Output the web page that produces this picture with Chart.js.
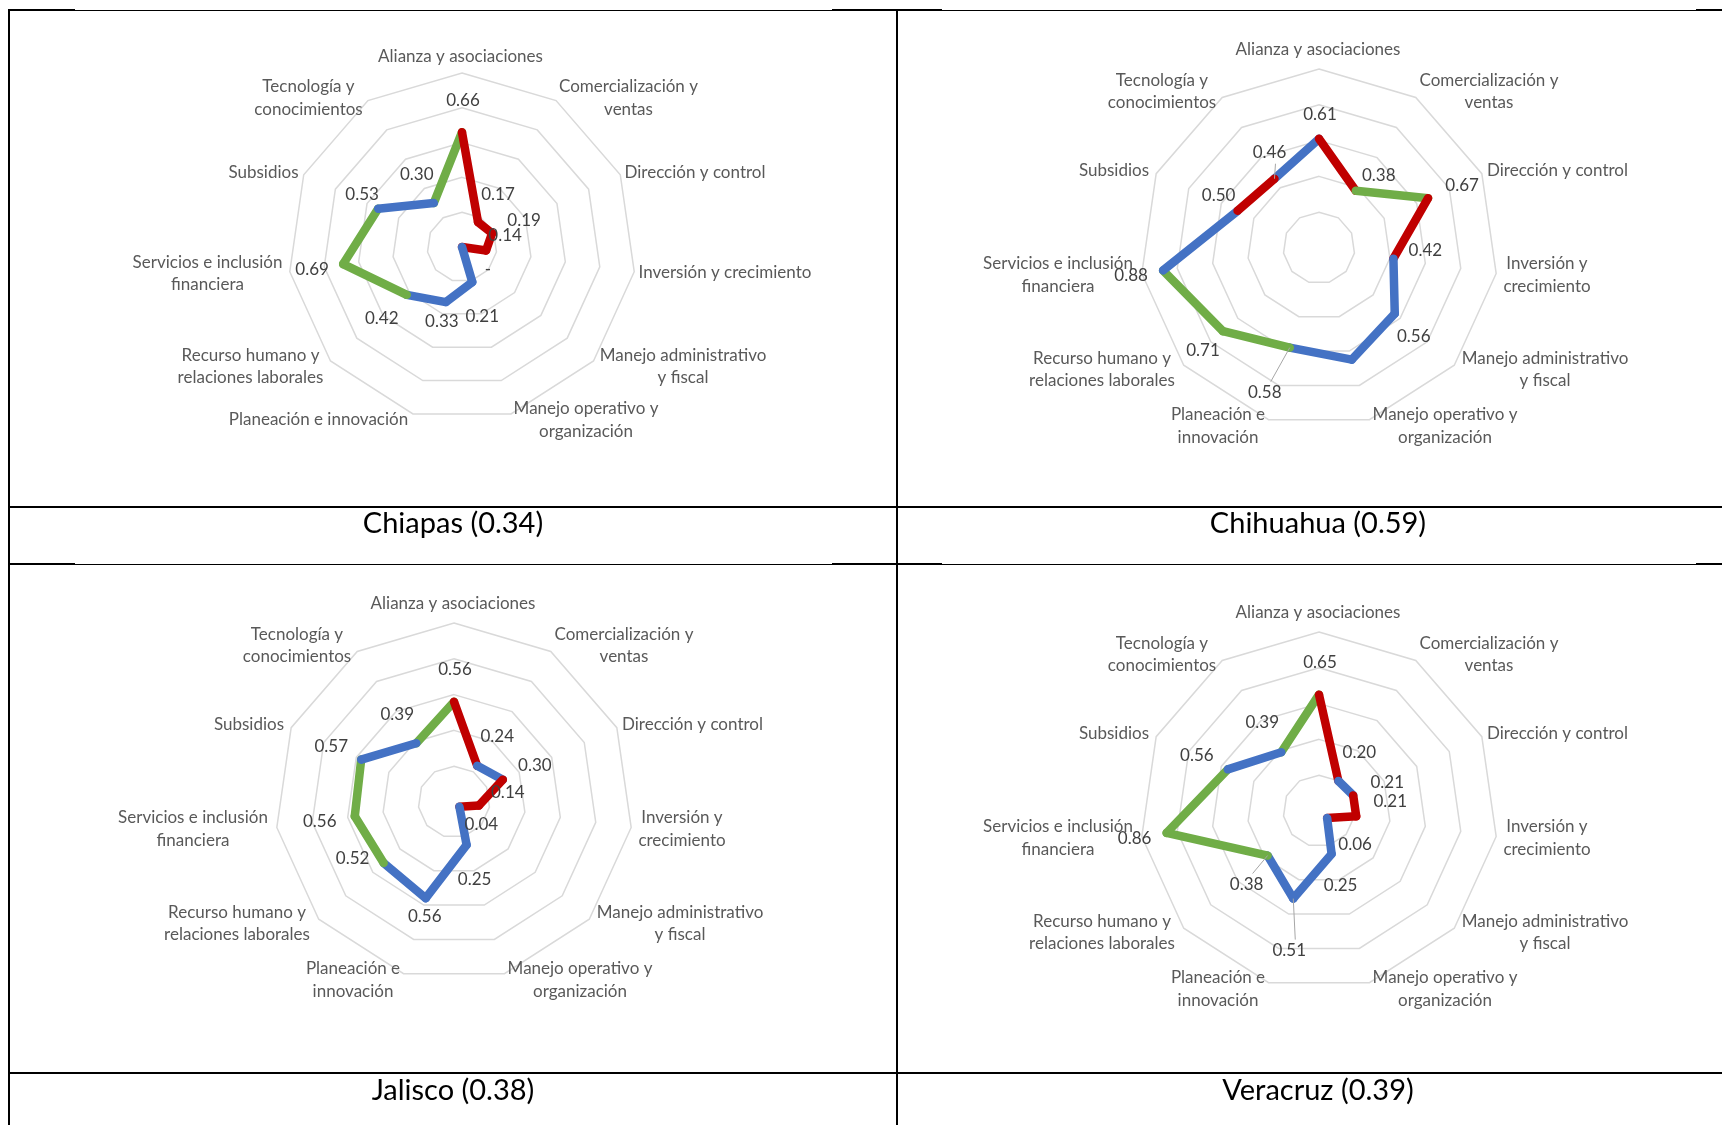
<!DOCTYPE html>
<html>
<head>
<meta charset="utf-8">
<title>Radar de capacidades por estado</title>
<script src="https://cdn.jsdelivr.net/npm/chart.js@4.4.1/dist/chart.umd.min.js"></script>
<style>
  html, body { margin: 0; padding: 0; background: #fff; }
  body { width: 1722px; height: 1125px; position: relative; overflow: hidden; font-family: Lato, "Open Sans", sans-serif; }
  .rule { position: absolute; background: #000; }
  canvas { position: absolute; }
  .state-title { position: absolute; text-align: center; font-family: Lato, sans-serif; font-size: 29px; color: #000; line-height: 32px; }
</style>
</head>
<body>
<!-- table rules -->
<div class="rule" style="left:8px;top:10px;width:1714px;height:1px"></div>
<div class="rule" style="left:8px;top:9px;width:67px;height:2px"></div>
<div class="rule" style="left:832px;top:9px;width:110px;height:2px"></div>
<div class="rule" style="left:1696px;top:9px;width:26px;height:2px"></div>
<div class="rule" style="left:8px;top:9px;width:2px;height:1116px"></div>
<div class="rule" style="left:896px;top:9px;width:2px;height:1116px"></div>
<div class="rule" style="left:8px;top:506px;width:1714px;height:2px"></div>
<div class="rule" style="left:8px;top:564px;width:1714px;height:1px"></div>
<div class="rule" style="left:8px;top:563px;width:67px;height:2px"></div>
<div class="rule" style="left:832px;top:563px;width:110px;height:2px"></div>
<div class="rule" style="left:1696px;top:563px;width:26px;height:2px"></div>
<div class="rule" style="left:8px;top:1072px;width:1714px;height:2px"></div>

<canvas id="chartChiapas"></canvas>
<canvas id="chartChihuahua"></canvas>
<canvas id="chartJalisco"></canvas>
<canvas id="chartVeracruz"></canvas>

<div class="state-title" id="titleChiapas" style="left:10px;width:886px;top:506px"></div>
<div class="state-title" id="titleChihuahua" style="left:898px;width:840px;top:506px"></div>
<div class="state-title" id="titleJalisco" style="left:10px;width:886px;top:1073px"></div>
<div class="state-title" id="titleVeracruz" style="left:898px;width:840px;top:1073px"></div>

<script>
// ---- data ----
const dimensions = [
  'Alianza y asociaciones',
  'Comercialización y ventas',
  'Dirección y control',
  'Inversión y crecimiento',
  'Manejo administrativo y fiscal',
  'Manejo operativo y organización',
  'Planeación e innovación',
  'Recurso humano y relaciones laborales',
  'Servicios e inclusión financiera',
  'Subsidios',
  'Tecnología y conocimientos'
];

const stateNames = ['Chiapas', 'Chihuahua', 'Jalisco', 'Veracruz'];
const stateScores = [0.34, 0.59, 0.38, 0.39];

const chiapasValues   = [0.66, 0.17, 0.19, 0.14, 0.00, 0.21, 0.33, 0.42, 0.69, 0.53, 0.30];
const chihuahuaValues = [0.61, 0.38, 0.67, 0.42, 0.56, 0.65, 0.58, 0.71, 0.88, 0.50, 0.46];
const jaliscoValues   = [0.56, 0.24, 0.30, 0.14, 0.04, 0.25, 0.56, 0.52, 0.56, 0.57, 0.39];
const veracruzValues  = [0.65, 0.20, 0.21, 0.21, 0.06, 0.25, 0.51, 0.38, 0.86, 0.56, 0.39];

// tone of the segment leaving each dimension towards the next one (r = rojo, g = verde, b = azul)
const chiapasTones   = ['r', 'r', 'r', 'r', 'b', 'b', 'b', 'g', 'g', 'b', 'g'];
const chihuahuaTones = ['r', 'g', 'r', 'b', 'b', 'b', 'g', 'g', 'b', 'r', 'b'];
const jaliscoTones   = ['r', 'b', 'r', 'r', 'b', 'b', 'b', 'g', 'g', 'b', 'g'];
const veracruzTones  = ['r', 'b', 'r', 'r', 'b', 'b', 'b', 'g', 'g', 'b', 'g'];

// ---- styling / layout ----
const TONE = { r: '#C00000', g: '#70AD47', b: '#4472C4' };
const TEXT_FONT = '17px Lato, sans-serif';

// caption lines for each dimension
const captionsWide = [
  ['Alianza y asociaciones'], ['Comercialización y', 'ventas'], ['Dirección y control'],
  ['Inversión y crecimiento'], ['Manejo administrativo', 'y fiscal'], ['Manejo operativo y', 'organización'],
  ['Planeación e innovación'], ['Recurso humano y', 'relaciones laborales'], ['Servicios e inclusión', 'financiera'],
  ['Subsidios'], ['Tecnología y', 'conocimientos']
];
const captionsStacked = [
  ['Alianza y asociaciones'], ['Comercialización y', 'ventas'], ['Dirección y control'],
  ['Inversión y', 'crecimiento'], ['Manejo administrativo', 'y fiscal'], ['Manejo operativo y', 'organización'],
  ['Planeación e', 'innovación'], ['Recurso humano y', 'relaciones laborales'], ['Servicios e inclusión', 'financiera'],
  ['Subsidios'], ['Tecnología y', 'conocimientos']
];
// caption anchors relative to the radar centre
const spotsWide = [
  { x: -1.5, y: -190, a: 'center' }, { x: 166.5, y: -149, a: 'center' }, { x: 162.5, y: -74, a: 'left' },
  { x: 176.5, y: 26, a: 'left' }, { x: 221, y: 119.5, a: 'center' }, { x: 124, y: 173, a: 'center' },
  { x: -143.5, y: 173, a: 'center' }, { x: -211.5, y: 119.5, a: 'center' }, { x: -254.5, y: 26.5, a: 'center' },
  { x: -163.5, y: -74, a: 'right' }, { x: -153.5, y: -149, a: 'center' }
];
const spotsStacked = [
  { x: -1, y: -198, a: 'center' }, { x: 170, y: -156.5, a: 'center' }, { x: 168, y: -77, a: 'left' },
  { x: 228, y: 27, a: 'center' }, { x: 226, y: 121.5, a: 'center' }, { x: 126, y: 178, a: 'center' },
  { x: -101, y: 178, a: 'center' }, { x: -217, y: 121.5, a: 'center' }, { x: -261, y: 27, a: 'center' },
  { x: -170, y: -77, a: 'right' }, { x: -157, y: -156.5, a: 'center' }
];

// value label nudges from each point; null hides the label; 'lead' adds a leader line
const nudgeChiapas = [[1,-32],[20,-28],[32,-13],[19,-15],[26,23],[10,34],[-4,19],[-25,24],[-31,5],[-16,-14],[-17,-29]];
const nudgeChihuahua = [[1,-24],[23,-15],[34,-13],[32,-8],[19,23],null,[-25,45,'lead'],[-20,19],[-32,5],[-19,-15],[-5,-26,'lead']];
const nudgeJalisco = [[1,-32],[20,-29],[32,-14],[29,-13],[22,18],[8,35],[-1,18],[-31,-4],[-35,5],[-30,-13],[-19,-29]];
const nudgeVeracruz = [[1,-32],[21,-28],[34,-13],[34,-15],[28,26],[9,32],[-4,52,'lead'],[-21,29,'lead'],[-32,6],[-31,-14],[-19,-30]];

const radarText = {
  id: 'radarText',
  afterDatasetsDraw(chart, args, opts) {
    const ctx = chart.ctx;
    const scale = chart.scales.r;
    const cx = scale.xCenter, cy = scale.yCenter;
    ctx.save();
    ctx.textBaseline = 'middle';
    ctx.textAlign = 'center';

    // dimension captions
    ctx.font = TEXT_FONT;
    ctx.fillStyle = '#595959';
    const lh = 22.5;
    opts.captions.forEach((lines, i) => {
      const s = opts.spots[i];
      const blockW = Math.max(...lines.map(t => ctx.measureText(t).width));
      let bx = cx + s.x;
      if (s.a === 'left') bx += blockW / 2;
      if (s.a === 'right') bx -= blockW / 2;
      const y0 = cy + s.y - (lines.length - 1) * lh / 2;
      lines.forEach((t, k) => ctx.fillText(t, bx, y0 + k * lh));
    });

    // value labels, anchored on the scale position of each value
    opts.values.forEach((v, i) => {
      const n = opts.nudges[i];
      if (!n) return;
      const pt = scale.getPointPositionForValue(i, v);
      const lx = pt.x + n[0], ly = pt.y + n[1];
      if (n[2] === 'lead') {
        ctx.strokeStyle = '#A6A6A6';
        ctx.lineWidth = 1;
        ctx.beginPath();
        ctx.moveTo(lx + (n[0] > 0 ? -6 : 6), ly + (n[1] > 0 ? -11 : 11));
        ctx.lineTo(pt.x, pt.y);
        ctx.stroke();
      }
      ctx.fillStyle = '#404040';
      ctx.fillText(v === 0 ? '-' : v.toFixed(2), lx, ly);
    });
    ctx.restore();
  }
};

// one two-point dataset per edge of the polygon, so every edge keeps its own colour;
// each edge sits above the previous one, the closing edge lies underneath all
function edgeDatasets(values, tones) {
  const n = values.length;
  return values.map((_, i) => {
    const j = (i + 1) % n;
    const data = values.map((v, k) => (k === i || k === j) ? v : null);
    return {
      data,
      order: i === n - 1 ? n + 1 : n - i,
      borderColor: TONE[tones[i]],
      borderWidth: 8.5,
      borderCapStyle: 'round',
      borderJoinStyle: 'round',
      fill: false,
      spanGaps: false,
      pointRadius: 0,
      pointHoverRadius: 0
    };
  });
}

function drawRadar(id, box, centre, radius, values, tones, captions, spots, nudges) {
  const canvas = document.getElementById(id);
  canvas.width = box.w;
  canvas.height = box.h;
  canvas.style.left = box.x + 'px';
  canvas.style.top = box.y + 'px';
  canvas.style.width = box.w + 'px';
  canvas.style.height = box.h + 'px';
  const padL = centre.x - radius - box.x;
  const padT = centre.y - radius - box.y;
  const padR = box.w - padL - 2 * radius;
  const padB = box.h - padT - 2 * radius;
  return new Chart(canvas, {
    type: 'radar',
    data: { labels: dimensions, datasets: edgeDatasets(values, tones) },
    options: {
      responsive: false,
      animation: false,
      devicePixelRatio: 1,
      layout: { padding: { left: padL, right: padR, top: padT, bottom: padB } },
      plugins: {
        legend: { display: false },
        tooltip: { enabled: false },
        radarText: { captions, spots, nudges, values }
      },
      scales: {
        r: {
          min: 0,
          max: 1,
          ticks: { display: false, stepSize: 0.2 },
          grid: { color: '#D9D9D9', lineWidth: 1.5 },
          angleLines: { display: false },
          pointLabels: { display: false }
        }
      }
    },
    plugins: [radarText]
  });
}

const leftCell = { x: 10, w: 886 };
const rightCell = { x: 898, w: 824 };
drawRadar('chartChiapas', { x: leftCell.x, y: 11, w: leftCell.w, h: 495 }, { x: 462, y: 247 }, 174,
  chiapasValues, chiapasTones, captionsWide, spotsWide, nudgeChiapas);
drawRadar('chartChihuahua', { x: rightCell.x, y: 11, w: rightCell.w, h: 495 }, { x: 1319, y: 248 }, 179,
  chihuahuaValues, chihuahuaTones, captionsStacked, spotsStacked, nudgeChihuahua);
drawRadar('chartJalisco', { x: leftCell.x, y: 565, w: leftCell.w, h: 507 }, { x: 454, y: 802 }, 179,
  jaliscoValues, jaliscoTones, captionsStacked, spotsStacked, nudgeJalisco);
drawRadar('chartVeracruz', { x: rightCell.x, y: 565, w: rightCell.w, h: 507 }, { x: 1319, y: 811 }, 179,
  veracruzValues, veracruzTones, captionsStacked, spotsStacked, nudgeVeracruz);

stateNames.forEach((s, i) => {
  document.getElementById('title' + s).textContent = s + ' (' + stateScores[i].toFixed(2) + ')';
});
</script>
</body>
</html>
